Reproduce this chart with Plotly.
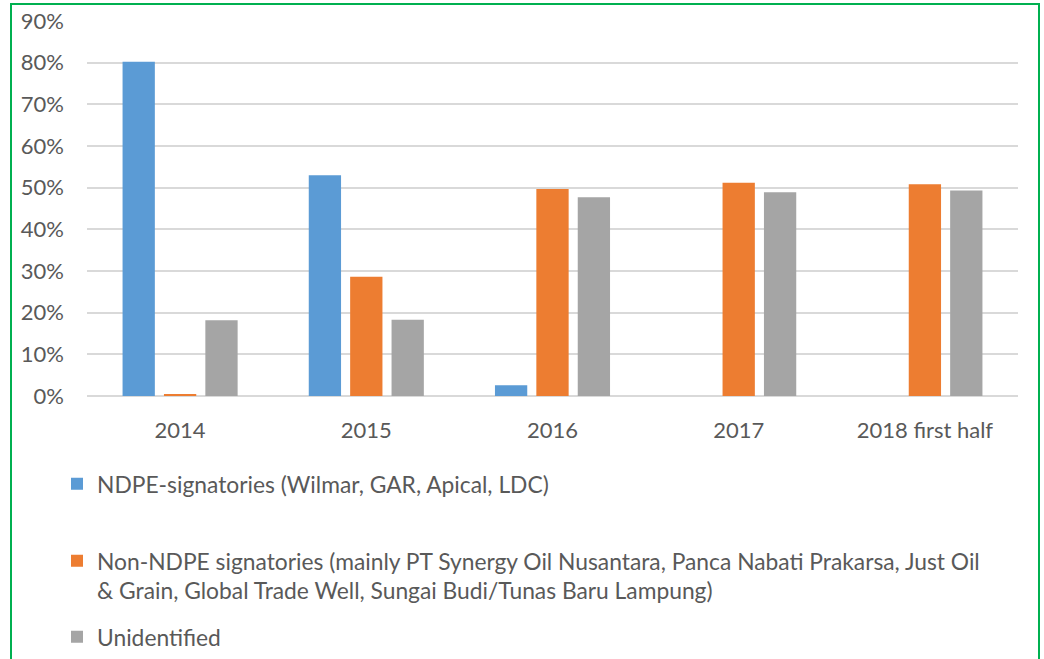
import plotly.graph_objects as go

categories = ["2014", "2015", "2016", "2017", "2018 first half"]
ndpe = [0.802, 0.530, 0.026, None, None]
non_ndpe = [0.005, 0.286, 0.497, 0.512, 0.508]
unidentified = [0.182, 0.183, 0.477, 0.489, 0.493]
tick_vals = [0, 0.1, 0.2, 0.3, 0.4, 0.5, 0.6, 0.7, 0.8, 0.9]
tick_text = ["0%", "10%", "20%", "30%", "40%", "50%", "60%", "70%", "80%", "90%"]

names = [
    "NDPE-signatories (Wilmar, GAR, Apical, LDC)",
    "Non-NDPE signatories (mainly PT Synergy Oil Nusantara, Panca Nabati Prakarsa, Just Oil<br>& Grain, Global Trade Well, Sungai Budi/Tunas Baru Lampung)",
    "Unidentified",
]
colors = ["#5B9BD5", "#ED7D31", "#A5A5A5"]
FONT = "Lato"
FS = 22
LFS = 22.8
TXT = "#595959"

fig = go.Figure()
for vals, name, col, lg in zip([ndpe, non_ndpe, unidentified], names, colors, ["legend", "legend2", "legend3"]):
    fig.add_trace(go.Bar(x=categories, y=vals, name=name, marker_color=col,
                         marker_line_width=0, legend=lg))

W, H = 1044, 659
L, R, T, B = 87, 26, 21, 263
pw = W - L - R
ph = H - T - B

def px_x(x):
    return (x - L) / pw

def px_y(y):
    return (H - B - y) / ph

leg_common = dict(x=px_x(57), xanchor="left", yanchor="middle", bgcolor="rgba(0,0,0,0)",
                  font=dict(family=FONT, size=LFS, color=TXT), valign="top", itemwidth=30)

fig.update_layout(
    width=W, height=H,
    margin=dict(l=L, r=R, t=T, b=B, autoexpand=False),
    paper_bgcolor="white", plot_bgcolor="white",
    barmode="group", bargap=0.333, bargroupgap=0.22,
    font=dict(family=FONT, size=FS, color=TXT),
    xaxis=dict(showgrid=False, showline=False, ticks="", tickfont=dict(family=FONT, size=FS, color=TXT),
               ticklabelstandoff=19),
    yaxis=dict(range=[0, 0.9], tickvals=tick_vals, ticktext=tick_text, showgrid=True,
               gridcolor="#D9D9D9", gridwidth=1.5, zeroline=True, zerolinecolor="#D9D9D9",
               zerolinewidth=1.5, showline=False, ticks="", ticklabelstandoff=22,
               tickfont=dict(family=FONT, size=FS, color=TXT)),
    showlegend=True,
    legend=dict(y=px_y(484), **leg_common),
    legend2=dict(y=px_y(576), **leg_common),
    legend3=dict(y=px_y(637), **leg_common),
    shapes=[dict(type="rect", xref="paper", yref="paper",
                 x0=px_x(11), x1=px_x(1039), y0=px_y(700), y1=px_y(4),
                 line=dict(color="#00B050", width=2), fillcolor="rgba(0,0,0,0)", layer="below")],
)

fig.write_html("out.html", config={"displayModeBar": False},
               post_script="document.body.style.margin='0';document.body.style.padding='0';")
